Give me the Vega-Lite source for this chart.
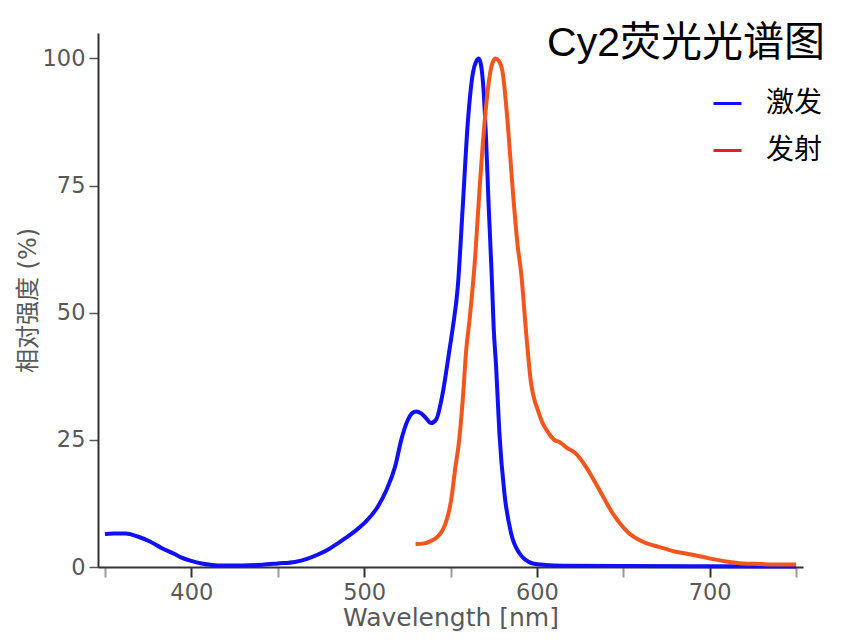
{
  "$schema": "https://vega.github.io/schema/vega-lite/v6.json",
  "width": 705,
  "height": 534,
  "autosize": {"type": "none"},
  "padding": {"left": 98, "top": 33, "right": 50, "bottom": 73},
  "background": "white",
  "config": {"view": {"stroke": null}},
  "title": {
    "text": "Cy2荧光光谱图",
    "anchor": "end",
    "frame": "group",
    "orient": "top",
    "offset": 0,
    "dy": 64,
    "dx": 22,
    "baseline": "alphabetic",
    "font": "Liberation Sans, Noto Sans CJK SC",
    "fontSize": 41,
    "fontWeight": "normal",
    "color": "#000000"
  },
  "data": {
    "values": [
      {"wl": 350, "val": 6.5, "series": "激发"},
      {"wl": 355, "val": 6.6, "series": "激发"},
      {"wl": 362, "val": 6.6, "series": "激发"},
      {"wl": 369, "val": 6.0, "series": "激发"},
      {"wl": 376, "val": 5.0, "series": "激发"},
      {"wl": 383, "val": 3.7, "series": "激发"},
      {"wl": 390, "val": 2.6, "series": "激发"},
      {"wl": 394, "val": 1.9, "series": "激发"},
      {"wl": 400, "val": 1.2, "series": "激发"},
      {"wl": 406, "val": 0.7, "series": "激发"},
      {"wl": 412, "val": 0.4, "series": "激发"},
      {"wl": 418, "val": 0.3, "series": "激发"},
      {"wl": 430, "val": 0.3, "series": "激发"},
      {"wl": 441, "val": 0.45, "series": "激发"},
      {"wl": 450, "val": 0.7, "series": "激发"},
      {"wl": 460, "val": 1.0, "series": "激发"},
      {"wl": 467, "val": 1.6, "series": "激发"},
      {"wl": 473, "val": 2.4, "series": "激发"},
      {"wl": 480, "val": 3.6, "series": "激发"},
      {"wl": 485, "val": 4.7, "series": "激发"},
      {"wl": 491, "val": 6.1, "series": "激发"},
      {"wl": 496, "val": 7.4, "series": "激发"},
      {"wl": 501, "val": 8.9, "series": "激发"},
      {"wl": 508, "val": 11.9, "series": "激发"},
      {"wl": 513, "val": 15.2, "series": "激发"},
      {"wl": 518, "val": 19.8, "series": "激发"},
      {"wl": 521.5, "val": 25.0, "series": "激发"},
      {"wl": 525.3, "val": 28.9, "series": "激发"},
      {"wl": 528, "val": 30.3, "series": "激发"},
      {"wl": 530.2, "val": 30.6, "series": "激发"},
      {"wl": 533, "val": 30.2, "series": "激发"},
      {"wl": 535, "val": 29.6, "series": "激发"},
      {"wl": 538.8, "val": 28.3, "series": "激发"},
      {"wl": 541.7, "val": 29.0, "series": "激发"},
      {"wl": 545.5, "val": 34.2, "series": "激发"},
      {"wl": 549.4, "val": 42.7, "series": "激发"},
      {"wl": 551.3, "val": 47, "series": "激发"},
      {"wl": 554.2, "val": 55, "series": "激发"},
      {"wl": 557.1, "val": 70.9, "series": "激发"},
      {"wl": 560.0, "val": 87.3, "series": "激发"},
      {"wl": 563.0, "val": 97.2, "series": "激发"},
      {"wl": 565, "val": 99.5, "series": "激发"},
      {"wl": 566.3, "val": 100, "series": "激发"},
      {"wl": 567.5, "val": 99, "series": "激发"},
      {"wl": 569.1, "val": 93.9, "series": "激发"},
      {"wl": 570.6, "val": 84.0, "series": "激发"},
      {"wl": 572.1, "val": 70.9, "series": "激发"},
      {"wl": 573.8, "val": 57.8, "series": "激发"},
      {"wl": 575.0, "val": 47, "series": "激发"},
      {"wl": 576.4, "val": 39.4, "series": "激发"},
      {"wl": 578.3, "val": 26.3, "series": "激发"},
      {"wl": 581.2, "val": 14.5, "series": "激发"},
      {"wl": 585.1, "val": 6.6, "series": "激发"},
      {"wl": 589.9, "val": 2.7, "series": "激发"},
      {"wl": 593, "val": 1.5, "series": "激发"},
      {"wl": 597.6, "val": 0.7, "series": "激发"},
      {"wl": 605, "val": 0.4, "series": "激发"},
      {"wl": 615, "val": 0.26, "series": "激发"},
      {"wl": 650, "val": 0.2, "series": "激发"},
      {"wl": 700, "val": 0.15, "series": "激发"},
      {"wl": 750, "val": 0.1, "series": "激发"},
      {"wl": 529.8, "val": 4.5, "series": "发射"},
      {"wl": 534, "val": 4.6, "series": "发射"},
      {"wl": 537.9, "val": 5.0, "series": "发射"},
      {"wl": 542, "val": 5.8, "series": "发射"},
      {"wl": 545.5, "val": 7.3, "series": "发射"},
      {"wl": 548, "val": 9.5, "series": "发射"},
      {"wl": 550.4, "val": 13.2, "series": "发射"},
      {"wl": 552.9, "val": 19.8, "series": "发射"},
      {"wl": 554.8, "val": 24.3, "series": "发射"},
      {"wl": 557.1, "val": 32.9, "series": "发射"},
      {"wl": 559.1, "val": 42.7, "series": "发射"},
      {"wl": 561.0, "val": 48.5, "series": "发射"},
      {"wl": 564.3, "val": 61.1, "series": "发射"},
      {"wl": 566.8, "val": 74.2, "series": "发射"},
      {"wl": 569.7, "val": 87.3, "series": "发射"},
      {"wl": 572.1, "val": 95.2, "series": "发射"},
      {"wl": 574, "val": 98.8, "series": "发射"},
      {"wl": 576.0, "val": 100, "series": "发射"},
      {"wl": 578, "val": 99.5, "series": "发射"},
      {"wl": 580.2, "val": 97.2, "series": "发射"},
      {"wl": 583.1, "val": 87.3, "series": "发射"},
      {"wl": 586.0, "val": 74.2, "series": "发射"},
      {"wl": 588.9, "val": 63.1, "series": "发射"},
      {"wl": 590.9, "val": 57.8, "series": "发射"},
      {"wl": 593.8, "val": 46.0, "series": "发射"},
      {"wl": 596.6, "val": 36.2, "series": "发射"},
      {"wl": 598.5, "val": 33, "series": "发射"},
      {"wl": 600.5, "val": 30.9, "series": "发射"},
      {"wl": 603, "val": 28.5, "series": "发射"},
      {"wl": 606.2, "val": 26.6, "series": "发射"},
      {"wl": 610, "val": 25, "series": "发射"},
      {"wl": 613, "val": 24.6, "series": "发射"},
      {"wl": 617, "val": 23.5, "series": "发射"},
      {"wl": 622.6, "val": 22.3, "series": "发射"},
      {"wl": 628.4, "val": 19.7, "series": "发射"},
      {"wl": 636.1, "val": 15.2, "series": "发射"},
      {"wl": 643.8, "val": 10.6, "series": "发射"},
      {"wl": 653.5, "val": 6.6, "series": "发射"},
      {"wl": 661, "val": 5.0, "series": "发射"},
      {"wl": 671, "val": 3.9, "series": "发射"},
      {"wl": 680.4, "val": 3.0, "series": "发射"},
      {"wl": 690.1, "val": 2.4, "series": "发射"},
      {"wl": 699.7, "val": 1.7, "series": "发射"},
      {"wl": 709.4, "val": 1.1, "series": "发射"},
      {"wl": 719.0, "val": 0.7, "series": "发射"},
      {"wl": 728.6, "val": 0.6, "series": "发射"},
      {"wl": 740, "val": 0.5, "series": "发射"},
      {"wl": 750, "val": 0.5, "series": "发射"}
    ]
  },
  "encoding": {
    "x": {
      "field": "wl",
      "type": "quantitative",
      "scale": {"domain": [346, 754], "nice": false, "zero": false},
      "axis": {
        "values": [350, 400, 450, 500, 550, 600, 650, 700, 750],
        "labelExpr": "datum.value % 100 === 0 ? datum.label : ''",
        "title": "Wavelength [nm]",
        "titleFont": "DejaVu Sans",
        "titleFontSize": 25,
        "titleFontWeight": "normal",
        "titleColor": "#595959",
        "titlePadding": 2,
        "labelFont": "DejaVu Sans",
        "labelFontSize": 22.5,
        "labelColor": "#595959",
        "labelPadding": 4,
        "labelOverlap": false,
        "labelFlush": false,
        "tickSize": 10,
        "tickWidth": 2,
        "tickColor": {"condition": {"test": "datum.value % 100 === 0", "value": "#333333"}, "value": "#9a9a9a"},
        "domainColor": "#333333",
        "domainWidth": 2,
        "grid": false
      }
    },
    "y": {
      "field": "val",
      "type": "quantitative",
      "scale": {"domain": [0, 105], "nice": false},
      "axis": {
        "values": [0, 25, 50, 75, 100],
        "title": "相对强度 (%)",
        "titleFont": "DejaVu Sans, Noto Sans CJK SC",
        "titleFontSize": 24,
        "titleFontWeight": "normal",
        "titleColor": "#595959",
        "titlePadding": 2,
        "labelFont": "DejaVu Sans",
        "labelFontSize": 22.5,
        "labelColor": "#595959",
        "labelPadding": 4,
        "tickSize": 9,
        "tickWidth": 1.5,
        "tickColor": "#555555",
        "domainColor": "#333333",
        "domainWidth": 2,
        "grid": false
      }
    }
  },
  "layer": [
    {
      "transform": [{"filter": "datum.series === '激发'"}],
      "mark": {"type": "line", "strokeWidth": 4, "interpolate": "monotone"},
      "encoding": {
        "color": {
          "field": "series",
          "type": "nominal",
          "scale": {"domain": ["激发", "发射"], "range": ["#1010f5", "#ee1c1c"]},
          "legend": {
            "orient": "none",
            "legendX": 614,
            "legendY": 55,
            "title": null,
            "symbolType": "stroke",
            "symbolSize": 784,
            "symbolStrokeWidth": 3,
            "labelFont": "Noto Sans CJK SC",
            "labelFontSize": 28,
            "labelColor": "#000000",
            "labelOffset": 23,
            "rowPadding": 17,
            "labelLimit": 200
          }
        }
      }
    },
    {
      "transform": [{"filter": "datum.series === '发射'"}],
      "mark": {"type": "line", "strokeWidth": 4, "interpolate": "monotone", "color": "#f2561d"},
      "encoding": {}
    }
  ]
}
